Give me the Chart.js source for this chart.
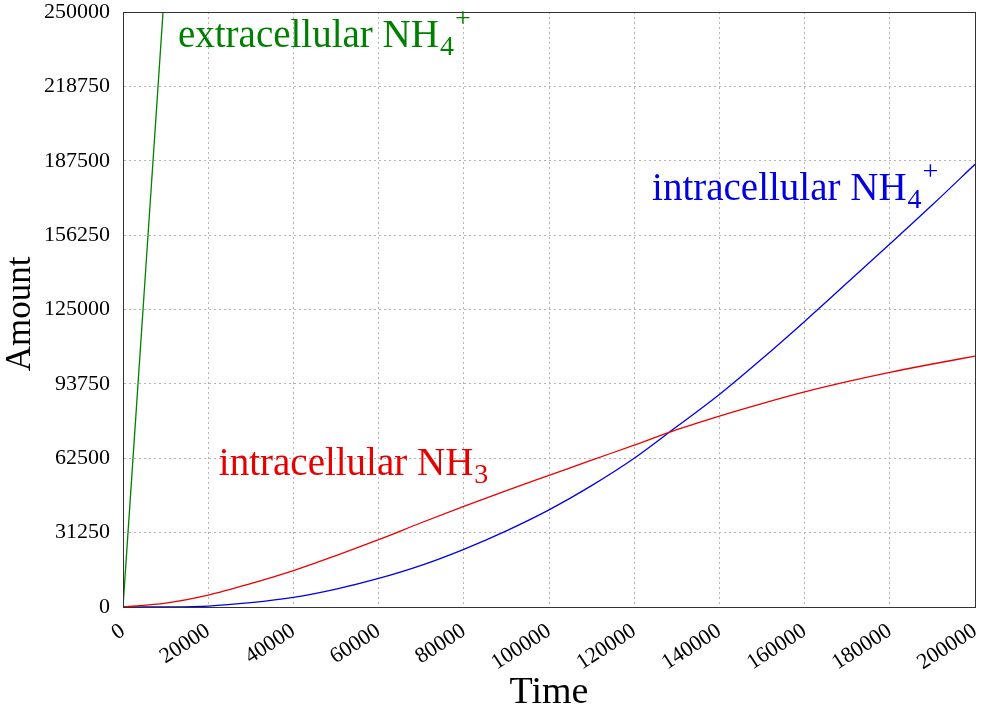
<!DOCTYPE html>
<html><head><meta charset="utf-8">
<script src="https://cdn.jsdelivr.net/npm/chart.js@4/dist/chart.umd.min.js"></script>
<style>html,body{margin:0;padding:0;background:#fff}#wrap{width:988px;height:712px}</style>
</head><body><div id="wrap"><canvas id="c" width="988" height="712"></canvas></div>
<script>
const times = [0,10000,20000,30000,40000,50000,60000,70000,80000,90000,100000,110000,120000,130000,140000,150000,160000,170000,180000,190000,200000];
const nh3In = [0,1600,5000,9800,15250,21600,28300,35400,42300,48900,55300,61700,68000,74500,80250,85500,90400,94700,98600,102100,105400];
const nh4In = [0,50,400,1800,4000,7500,12000,17500,24250,32000,40800,51000,62500,75800,89300,104300,120000,136200,152500,169000,186000];
const extTimes = [0,5000,10000];
const nh4Ext = [0,133000,266000];
const xTickStep = 20000, yTickStep = 31250;

const pts = (xs, ys) => xs.map((t, i) => ({x: t, y: ys[i]}));
const FONT = '"Liberation Serif", "Times New Roman", serif';

const annotations = [
  {t: 12900, v: 235300, color: 'rgb(0,128,0)', main: 'extracellular NH', sub: '4', sup: '+'},
  {t: 124200, v: 171000, color: 'rgb(0,0,225)', main: 'intracellular NH', sub: '4', sup: '+'},
  {t: 22500, v: 55400, color: 'rgb(230,0,0)', main: 'intracellular NH', sub: '3', sup: ''}
];

const labelPlugin = {
  id: 'labelPlugin',
  afterDatasetsDraw(chart) {
    const {ctx, chartArea: a, scales: {x, y}} = chart;
    ctx.save();
    ctx.setLineDash([]);
    ctx.strokeStyle = '#333';
    ctx.lineWidth = 1;
    ctx.strokeRect(Math.round(a.left) + 0.5, Math.round(a.top) + 0.5, Math.round(a.right - a.left), Math.round(a.bottom - a.top));
    ctx.textBaseline = 'alphabetic';
    ctx.textAlign = 'left';
    annotations.forEach(an => {
      const px = x.getPixelForValue(an.t), py = y.getPixelForValue(an.v);
      ctx.fillStyle = an.color;
      ctx.font = '39px ' + FONT;
      ctx.fillText(an.main, px, py);
      const w = ctx.measureText(an.main).width;
      ctx.font = '28px ' + FONT;
      ctx.fillText(an.sub, px + w + 1, py + 8);
      const ws = ctx.measureText(an.sub).width;
      if (an.sup) ctx.fillText(an.sup, px + w + ws + 2, py - 20);
    });
    ctx.restore();
  }
};

new Chart(document.getElementById('c'), {
  type: 'line',
  data: {
    datasets: [
      {label: 'extracellular NH4+', data: pts(extTimes, nh4Ext), borderColor: 'rgb(0,128,0)', borderWidth: 1.3, pointRadius: 0, fill: false, tension: 0},
      {label: 'intracellular NH3', data: pts(times, nh3In), borderColor: 'rgb(235,0,0)', borderWidth: 1.3, pointRadius: 0, fill: false, cubicInterpolationMode: 'monotone'},
      {label: 'intracellular NH4+', data: pts(times, nh4In), borderColor: 'rgb(0,0,230)', borderWidth: 1.3, pointRadius: 0, fill: false, cubicInterpolationMode: 'monotone'}
    ]
  },
  options: {
    responsive: false,
    animation: false,
    devicePixelRatio: 1,
    layout: {padding: 0},
    plugins: {legend: {display: false}, tooltip: {enabled: false}},
    scales: {
      x: {
        type: 'linear', min: 0, max: 200000,
        afterFit(s) { s.height = 105; s.paddingLeft = 0; s.paddingRight = 13; },
        ticks: {stepSize: xTickStep, maxRotation: 33, minRotation: 33, color: '#000', font: {family: FONT, size: 22}, padding: 11, callback: v => String(v)},
        grid: {color: '#b4b4b4', drawTicks: false, tickLength: 0},
        border: {color: '#333', dash: [2, 3]},
        title: {display: true, text: 'Time', color: '#000', font: {family: FONT, size: 38, lineHeight: 1}, padding: {top: 0, bottom: 0}}
      },
      y: {
        type: 'linear', min: 0, max: 250000,
        afterFit(s) { s.width = 123; s.paddingTop = 12; s.paddingBottom = 0; },
        ticks: {stepSize: yTickStep, color: '#000', font: {family: FONT, size: 22}, padding: 13, callback: v => String(v)},
        grid: {color: '#b4b4b4', drawTicks: false, tickLength: 0},
        border: {color: '#333', dash: [2, 3]},
        title: {display: true, text: 'Amount ', color: '#000', font: {family: FONT, size: 35}, padding: {top: 0, bottom: 0}}
      }
    }
  },
  plugins: [labelPlugin]
});
</script></body></html>
